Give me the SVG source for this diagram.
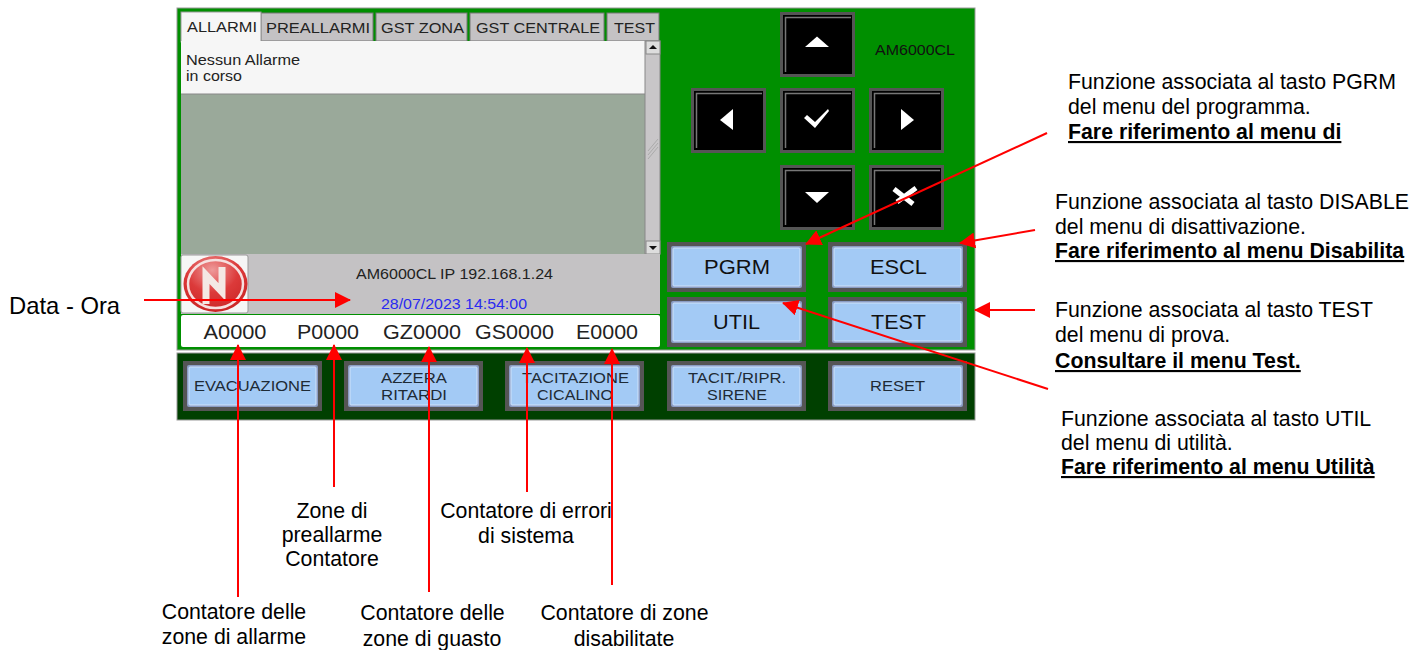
<svg xmlns="http://www.w3.org/2000/svg" width="1426" height="650" viewBox="0 0 1426 650">
<style>
text{font-family:"Liberation Sans",Arial,sans-serif}
.note{font-size:21.300px;fill:#000}
.b{font-weight:bold;text-decoration:underline}
.m{text-anchor:middle}
.tab{fill:#c4c2c4;stroke:#777;stroke-width:1}
.tt{font-size:15.200px;fill:#222;text-anchor:middle}
.scr{font-size:14.500px;fill:#222}
.date{font-size:14.500px;fill:#2a2af0;text-anchor:middle}
.frame{fill:#555}
.ring{fill:#8a9cc4}
.blue{fill:#a3caf5;stroke:#cfe2fa;stroke-width:1}
.bl{fill:#1e2a35;text-anchor:middle;font-size:15px}
.bl2{fill:#111;text-anchor:middle;font-size:20px}
.cnt{font-size:20px;fill:#222;text-anchor:middle}
.blk{fill:#000;stroke:#555;stroke-width:3}
.hl{fill:none;stroke:#777;stroke-width:1.500}
.g{fill:#fff}
.conn{stroke:#f00;stroke-width:2;fill:none;marker-end:url(#ah)}
</style>
<defs>
<marker id="ah" viewBox="0 0 16 16" refX="15" refY="8" markerUnits="userSpaceOnUse" markerWidth="16" markerHeight="16" orient="auto"><path d="M0 0L16 8L0 16Z" fill="#f00"/></marker>
<radialGradient id="lg" cx="0.450" cy="0.250" r="0.800"><stop offset="0" stop-color="#ee9a9a"/><stop offset="0.500" stop-color="#dc3a3a"/><stop offset="1" stop-color="#c82424"/></radialGradient>
<g id="fb"><rect x="0" y="0" width="139" height="50" class="frame"/><rect x="4" y="4" width="131" height="42" rx="2" class="ring"/><rect x="6" y="6" width="127" height="38" rx="1" class="blue"/></g>
<g id="kb"><rect x="1.500" y="1.500" width="72" height="62" class="blk"/><path class="hl" d="M5.500 60V5.500H71"/></g>
</defs>
<g id="panel-upper"><rect x="177" y="8" width="798" height="342" fill="#008f00" stroke="#999"/></g>
<g id="panel-lower"><rect x="177" y="353" width="798" height="67" fill="#004000" stroke="#999"/></g>
<g id="tabs" lengthAdjust="spacingAndGlyphs">
<rect x="261" y="13" width="112" height="28" class="tab"/><text x="318" y="33" class="tt" textLength="104" lengthAdjust="spacingAndGlyphs">PREALLARMI</text>
<rect x="376" y="13" width="91" height="28" class="tab"/><text x="422.500" y="33" class="tt" textLength="83" lengthAdjust="spacingAndGlyphs">GST ZONA</text>
<rect x="470" y="13" width="134" height="28" class="tab"/><text x="538" y="33" class="tt" textLength="124" lengthAdjust="spacingAndGlyphs">GST CENTRALE</text>
<rect x="607" y="13" width="52" height="28" class="tab"/><text x="634.500" y="33" class="tt" textLength="41" lengthAdjust="spacingAndGlyphs">TEST</text>
<rect x="181" y="12" width="80" height="30" fill="#f6f6f6" stroke="#999"/><text x="222" y="32" class="tt" textLength="70" lengthAdjust="spacingAndGlyphs">ALLARMI</text>
</g>
<g id="alarm-list">
<rect x="181" y="41" width="464" height="53" fill="#f6f6f6"/>
<rect x="181" y="94" width="464" height="160" fill="#9aa99a"/>
<line x1="181" y1="94" x2="645" y2="94" stroke="#888"/>
<text x="186" y="65" class="scr" textLength="114" lengthAdjust="spacingAndGlyphs">Nessun Allarme</text>
<text x="186" y="81" class="scr" textLength="56" lengthAdjust="spacingAndGlyphs">in corso</text>
</g>
<g id="scrollbar">
<rect x="645" y="41" width="15" height="213" fill="#c8c6c8" stroke="#888"/>
<rect x="646" y="41" width="14" height="13" fill="#ddd" stroke="#888"/><path d="M649 49L653 45L657 49Z" fill="#111"/>
<rect x="646" y="241" width="14" height="13" fill="#ddd" stroke="#888"/><path d="M649 246L653 250L657 246Z" fill="#111"/>
<path d="M648 155L658 143M648 151L658 139M648 159L658 147" stroke="#aaa"/>
</g>
<g id="info">
<rect x="181" y="254" width="479" height="60" fill="#c4c2c4"/>
<rect x="181" y="255" width="67" height="58" rx="2" fill="#f6f6f6" stroke="#999"/>
<text x="454.500" y="279" class="scr m" textLength="197" lengthAdjust="spacingAndGlyphs">AM6000CL IP 192.168.1.24</text>
<text x="454" y="309" class="date" textLength="146" lengthAdjust="spacingAndGlyphs">28/07/2023 14:54:00</text>
</g>
<g id="logo">
<ellipse cx="215.500" cy="284" rx="32" ry="28" fill="url(#lg)"/>
<ellipse cx="215.500" cy="284" rx="27.500" ry="24" fill="none" stroke="#f6e0e0" stroke-width="2.500"/>
<path d="M206 304V275L222 292V267" fill="none" stroke="#f4e8e4" stroke-width="7"/>
</g>
<g id="counters">
<rect x="181" y="315" width="479" height="32" rx="2" fill="#fff"/>
<text x="235" y="339" class="cnt" textLength="63" lengthAdjust="spacingAndGlyphs">A0000</text>
<text x="328" y="339" class="cnt" textLength="62" lengthAdjust="spacingAndGlyphs">P0000</text>
<text x="422" y="339" class="cnt" textLength="78" lengthAdjust="spacingAndGlyphs">GZ0000</text>
<text x="514.500" y="339" class="cnt" textLength="79" lengthAdjust="spacingAndGlyphs">GS0000</text>
<text x="607" y="339" class="cnt" textLength="62" lengthAdjust="spacingAndGlyphs">E0000</text>
</g>
<g id="key-up"><use href="#kb" x="780" y="12"/><path class="g" d="M805 47L817 36.500L829 47Z"/></g>
<g id="key-left"><use href="#kb" x="691" y="88"/><path class="g" d="M733 109L720 120L733 130Z"/></g>
<g id="key-ok"><use href="#kb" x="780" y="88"/><path class="g" d="M804 118L807 115L815 122L828 109L829 111L815 128Z"/></g>
<g id="key-right"><use href="#kb" x="869" y="88"/><path class="g" d="M901 109L914 120L901 130Z"/></g>
<g id="key-down"><use href="#kb" x="780" y="165"/><path class="g" d="M805 192L829 192L817 203Z"/></g>
<g id="key-x"><use href="#kb" x="869" y="165"/><path stroke="#fff" stroke-width="5" fill="none" d="M894 189L913 204M916 188L897 202"/></g>
<g id="btn-pgrm"><use href="#fb" x="667" y="242"/><text x="737" y="274" class="bl2" textLength="66" lengthAdjust="spacingAndGlyphs">PGRM</text></g>
<g id="btn-escl"><use href="#fb" x="828" y="242"/><text x="898.500" y="274" class="bl2" textLength="57" lengthAdjust="spacingAndGlyphs">ESCL</text></g>
<g id="btn-util"><use href="#fb" x="667" y="297"/><text x="736.500" y="329" class="bl2" textLength="47" lengthAdjust="spacingAndGlyphs">UTIL</text></g>
<g id="btn-test"><use href="#fb" x="828" y="297"/><text x="898.500" y="329" class="bl2" textLength="55" lengthAdjust="spacingAndGlyphs">TEST</text></g>
<g id="btn-evac"><use href="#fb" x="183" y="361"/><text x="252.500" y="391" class="bl" textLength="117" lengthAdjust="spacingAndGlyphs">EVACUAZIONE</text></g>
<g id="btn-azzera"><use href="#fb" x="344" y="361"/><text x="414" y="383" class="bl" textLength="66" lengthAdjust="spacingAndGlyphs">AZZERA</text><text x="414" y="400" class="bl" textLength="66" lengthAdjust="spacingAndGlyphs">RITARDI</text></g>
<g id="btn-tacit"><use href="#fb" x="505" y="361"/><text x="575.500" y="383" class="bl" textLength="107" lengthAdjust="spacingAndGlyphs">TACITAZIONE</text><text x="575" y="400" class="bl" textLength="76" lengthAdjust="spacingAndGlyphs">CICALINO</text></g>
<g id="btn-sirene"><use href="#fb" x="667" y="361"/><text x="737" y="383" class="bl" textLength="98" lengthAdjust="spacingAndGlyphs">TACIT./RIPR.</text><text x="737" y="400" class="bl" textLength="60" lengthAdjust="spacingAndGlyphs">SIRENE</text></g>
<g id="btn-reset"><use href="#fb" x="828" y="361"/><text x="897.500" y="391" class="bl" textLength="55" lengthAdjust="spacingAndGlyphs">RESET</text></g>
<text x="875" y="55" class="scr" style="fill:#111" textLength="80" lengthAdjust="spacingAndGlyphs">AM6000CL</text>
<g id="connectors">
<line class="conn" x1="1047" y1="133" x2="806" y2="244"/>
<line class="conn" x1="1035" y1="230" x2="960" y2="243"/>
<line class="conn" x1="1035" y1="310" x2="975" y2="310"/>
<line class="conn" x1="1048" y1="389" x2="783" y2="303"/>
<line class="conn" x1="144" y1="300" x2="350" y2="300"/>
<line class="conn" x1="238" y1="597" x2="238" y2="345"/>
<line class="conn" x1="334" y1="487" x2="334" y2="345"/>
<line class="conn" x1="429" y1="592" x2="429" y2="347"/>
<line class="conn" x1="527" y1="492" x2="527" y2="348"/>
<line class="conn" x1="612" y1="585" x2="612" y2="349"/>
</g>
<g id="labels">
<text x="9" y="314" class="note" style="font-size:23.800px">Data - Ora</text>
<text x="1068" y="89" class="note">Funzione associata al tasto PGRM</text>
<text x="1068" y="114" class="note">del menu del programma.</text>
<text x="1068" y="139" class="note b">Fare riferimento al menu di</text>
<text x="1055" y="209" class="note">Funzione associata al tasto DISABLE</text>
<text x="1055" y="234" class="note">del menu di disattivazione.</text>
<text x="1055" y="258" class="note b">Fare riferimento al menu Disabilita</text>
<text x="1055" y="317" class="note">Funzione associata al tasto TEST</text>
<text x="1055" y="342" class="note">del menu di prova.</text>
<text x="1055" y="368" class="note b">Consultare il menu Test.</text>
<text x="1061" y="426" class="note">Funzione associata al tasto UTIL</text>
<text x="1061" y="450" class="note">del menu di utilità.</text>
<text x="1061" y="474" class="note b">Fare riferimento al menu Utilità</text>
<text x="332" y="518" class="note m">Zone di</text>
<text x="332" y="542" class="note m">preallarme</text>
<text x="332" y="566" class="note m">Contatore</text>
<text x="526" y="518" class="note m">Contatore di errori</text>
<text x="526" y="543" class="note m">di sistema</text>
<text x="234" y="619" class="note m">Contatore delle</text>
<text x="234" y="644" class="note m">zone di allarme</text>
<text x="432.500" y="620" class="note m">Contatore delle</text>
<text x="432" y="646" class="note m">zone di guasto</text>
<text x="624.500" y="620" class="note m">Contatore di zone</text>
<text x="624" y="646" class="note m">disabilitate</text>
</g>
</svg>
